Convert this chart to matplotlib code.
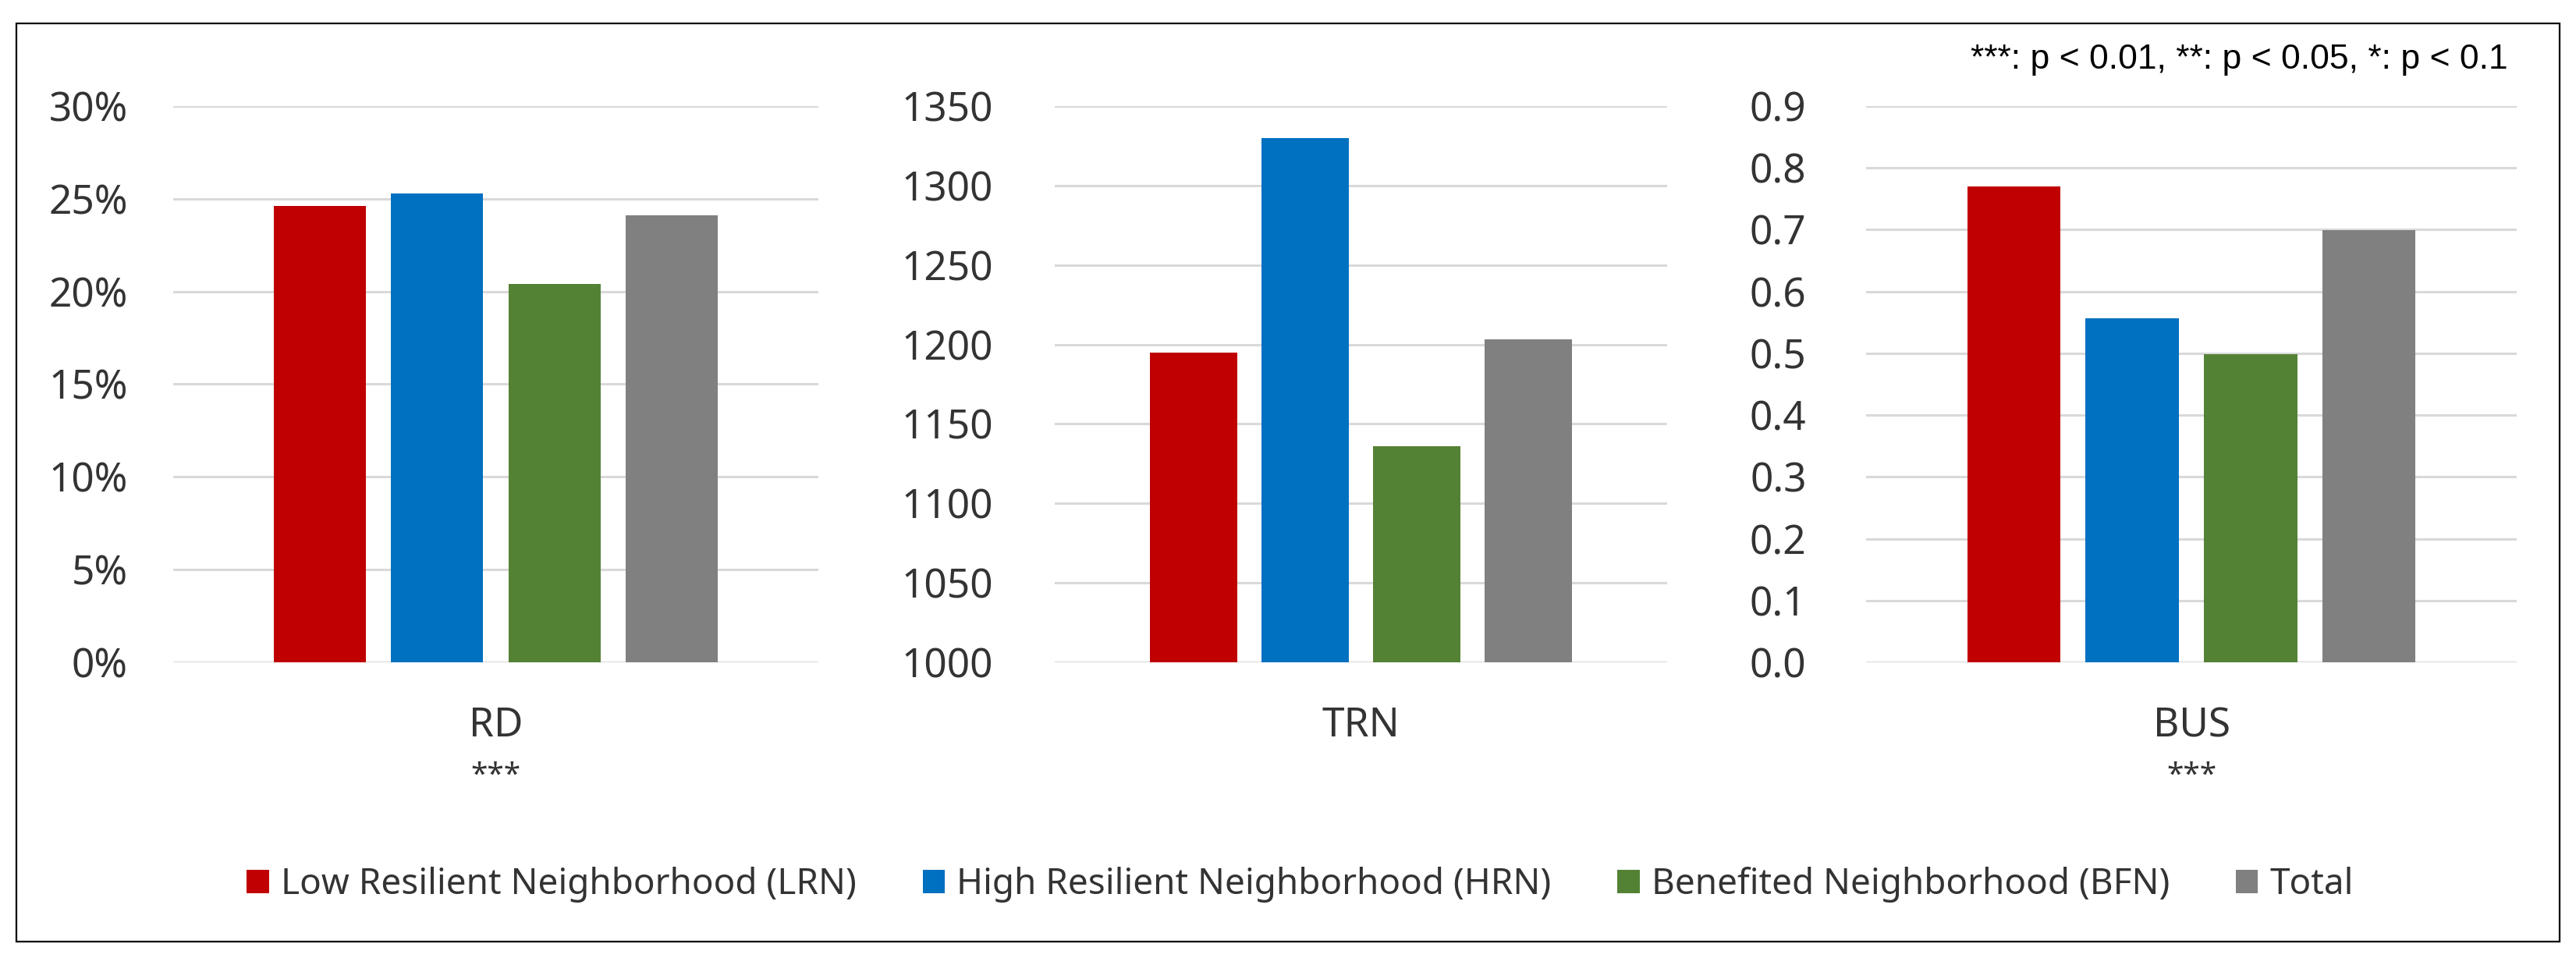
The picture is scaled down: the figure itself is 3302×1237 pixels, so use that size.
import matplotlib.pyplot as plt
from matplotlib.patches import Rectangle, Patch
from matplotlib.ticker import FuncFormatter

plt.rcParams['font.family'] = ['Noto Sans', 'DejaVu Sans']

# data
groups = ['Low Resilient Neighborhood (LRN)', 'High Resilient Neighborhood (HRN)',
          'Benefited Neighborhood (BFN)', 'Total']
colors = ['#C00000', '#0070C0', '#548235', '#808080']
categories = ['RD', 'TRN', 'BUS']
significance = ['***', '', '***']
rd_values = [0.246, 0.253, 0.204, 0.241]
trn_values = [1195, 1330, 1136, 1203]
bus_values = [0.770, 0.557, 0.499, 0.699]
note = '***: p < 0.01, **: p < 0.05, *: p < 0.1'

W, H = 3302, 1237
fig = plt.figure(figsize=(W / 100, H / 100), dpi=100)

text_color = '#333333'
grid_color = '#D9D9D9'

# axes boxes in pixels: left, right
boxes = [(222, 1049), (1352, 2137), (2392, 3226)]
top_px, bottom_px = 136, 849
ylims = [(0, 0.30), (1000, 1350), (0, 0.9)]
yticks = [[i * 0.05 for i in range(7)], list(range(1000, 1351, 50)), [i * 0.1 for i in range(10)]]
formatters = [FuncFormatter(lambda v, p: f'{v * 100:.0f}%'),
              FuncFormatter(lambda v, p: f'{v:.0f}'),
              FuncFormatter(lambda v, p: f'{v:.1f}')]
pads = [42, 57, 55]
series = [rd_values, trn_values, bus_values]

spacing = 0.182
bar_w = 0.143

for k, (l, r) in enumerate(boxes):
    ax = fig.add_axes([l / W, 1 - bottom_px / H, (r - l) / W, (bottom_px - top_px) / H])
    for i, v in enumerate(series[k]):
        ax.bar((i - 1.5) * spacing, v, width=bar_w, color=colors[i], zorder=3)
    ax.set_xlim(-0.5, 0.5)
    ax.set_ylim(*ylims[k])
    ax.set_yticks(yticks[k])
    ax.yaxis.set_major_formatter(formatters[k])
    ax.tick_params(axis='y', length=0, pad=pads[k], labelsize=37, labelcolor=text_color)
    ax.set_xticks([])
    for s in ax.spines.values():
        s.set_visible(False)
    ax.grid(axis='y', color=grid_color, linewidth=2.2, zorder=0)
    ax.text(0, -0.115, categories[k], transform=ax.get_xaxis_transform(),
            ha='center', va='center', fontsize=37, color=text_color)
    if significance[k]:
        ax.text(0, -0.205, significance[k], transform=ax.get_xaxis_transform(),
                ha='center', va='center', fontsize=28, color=text_color)

fig.text(3215 / W, 1 - 88 / H, note, ha='right', va='baseline', fontsize=32,
         family=['Liberation Sans', 'DejaVu Sans'], color='#000000')

handles = [Patch(facecolor=c, edgecolor='none') for c in colors]
fig.legend(handles, groups, loc='center', bbox_to_anchor=(0.5047, 1 - 1134 / H), ncol=4,
           frameon=False, fontsize=33, labelcolor=text_color, handlelength=0.62,
           handleheight=0.62, handletextpad=0.33, columnspacing=1.85)

fig.patches.append(Rectangle((21 / W, 1 - 1207 / H), 3260 / W, 1177 / H, transform=fig.transFigure,
                             fill=False, edgecolor='black', linewidth=1.6))

fig.savefig('out.png', dpi=100)
